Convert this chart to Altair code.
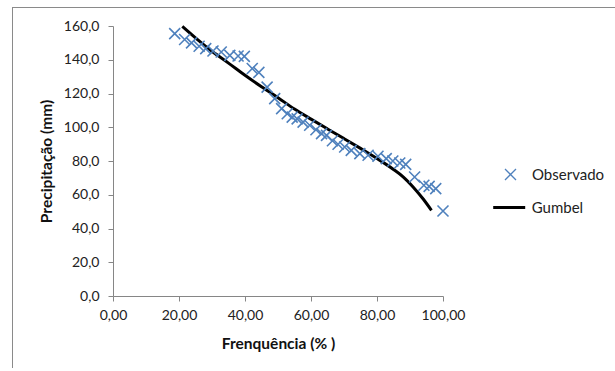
import altair as alt
import pandas as pd

# Observed data (frequency %, precipitation mm)
obs_freq = [18.7, 21.7, 23.8, 26.1, 28.1, 30.3, 32.8, 35.4, 37.9, 39.8, 42.2, 44.2,
            46.7, 49.0, 51.1, 52.8, 54.3, 55.8, 57.6, 59.6, 61.5, 63.2, 64.7, 66.5,
            68.2, 70.2, 72.2, 74.8, 77.3, 80.3, 82.8, 84.8, 86.9, 88.7, 91.4, 94.2,
            95.8, 97.8, 100.0]
obs_prec = [155.5, 152.0, 150.0, 148.0, 146.6, 145.2, 144.6, 142.6, 142.2, 142.0, 134.8, 132.5,
            123.8, 117.0, 111.0, 108.0, 106.0, 105.0, 103.0, 101.2, 98.5, 96.2, 95.2, 92.0,
            89.9, 88.3, 86.3, 84.4, 83.4, 82.8, 81.4, 80.0, 78.8, 78.0, 70.5, 65.6,
            65.0, 63.6, 50.4]

# Gumbel fitted curve
gum_freq = [21.0, 25.0, 30.0, 35.0, 40.0, 45.0, 50.0, 55.0, 60.0, 65.0, 70.0, 75.0,
            80.0, 85.0, 88.0, 91.0, 94.0, 96.5]
gum_prec = [159.8, 153.0, 145.0, 138.0, 130.8, 124.0, 117.5, 110.8, 104.8, 99.0, 93.3, 87.5,
            81.5, 75.0, 70.5, 64.5, 57.5, 50.8]

x_ticks = [0, 20, 40, 60, 80, 100]
y_ticks = [0, 20, 40, 60, 80, 100, 120, 140, 160]

obs_df = pd.DataFrame({"freq": obs_freq, "prec": obs_prec, "serie": "Observado"})
gum_df = pd.DataFrame({"freq": gum_freq, "prec": gum_prec, "serie": "Gumbel"})

FONT = "Lato"
XPATH = "M-1,-1L1,1M1,-1L-1,1"

x_enc = alt.X("freq:Q", scale=alt.Scale(domain=[0, 100], nice=False),
              axis=alt.Axis(values=x_ticks, title="Frenquência (% )", labelOverlap=False,
                            labelFlush=False,
                            labelExpr="replace(format(datum.value, '.2f'), '.', ',')"))
y_enc = alt.Y("prec:Q", scale=alt.Scale(domain=[0, 160], nice=False),
              axis=alt.Axis(values=y_ticks, title="Precipitação (mm)", labelOverlap=False,
                            labelFlush=False,
                            labelExpr="replace(format(datum.value, '.1f'), '.', ',')"))

one = pd.DataFrame({"a": [0]})
frame_top = alt.Chart(one).mark_rule(stroke="#8a8a8a", strokeWidth=1).encode(
    x=alt.value(-101), x2=alt.value(520), y=alt.value(-18.5)
)
frame_left = alt.Chart(one).mark_rule(stroke="#8a8a8a", strokeWidth=1).encode(
    x=alt.value(-100.5), y=alt.value(-19), y2=alt.value(360)
)

points = alt.Chart(obs_df).mark_point(
    shape=XPATH, size=121, strokeWidth=1.6, filled=False, opacity=1
).encode(
    x=x_enc, y=y_enc,
    color=alt.Color("serie:N", scale=alt.Scale(domain=["Observado"], range=["#4F81BD"]),
                    legend=alt.Legend(title=None, orient="none", legendX=390, legendY=141,
                                      symbolType=XPATH, symbolSize=121, symbolStrokeWidth=1.3,
                                      labelOffset=14, labelFontSize=15, labelFont=FONT,
                                      labelColor="#222222", padding=0))
)

line = alt.Chart(gum_df).mark_line(strokeWidth=3, interpolate="monotone").encode(
    x=x_enc, y=y_enc,
    stroke=alt.Stroke("serie:N", scale=alt.Scale(domain=["Gumbel"], range=["#000000"]),
                      legend=alt.Legend(title=None, orient="none", legendX=378.7, legendY=164,
                                        symbolType="stroke", symbolSize=1024, symbolStrokeWidth=3,
                                        labelOffset=5, labelFontSize=15, labelFont=FONT,
                                        labelColor="#222222", padding=0))
)

chart = alt.layer(frame_top, frame_left, line, points).resolve_scale(
    color="independent", stroke="independent"
).properties(
    width=330, height=270,
    autosize=alt.AutoSizeParams(type="none"),
    padding={"left": 113, "top": 26, "right": 172, "bottom": 72},
    background="white"
).configure_view(stroke=None).configure_axis(
    grid=False, domainColor="#868686", tickColor="#868686", tickSize=5,
    labelFont=FONT, labelFontSize=14, labelColor="#222222",
    titleFont=FONT, titleFontSize=15.5, titleFontWeight="bold", titleColor="#111111"
).configure_axisX(labelPadding=7, titlePadding=14).configure_axisY(labelPadding=9, titlePadding=9)

chart.save("out.html", embed_options={"renderer": "svg", "actions": False})
